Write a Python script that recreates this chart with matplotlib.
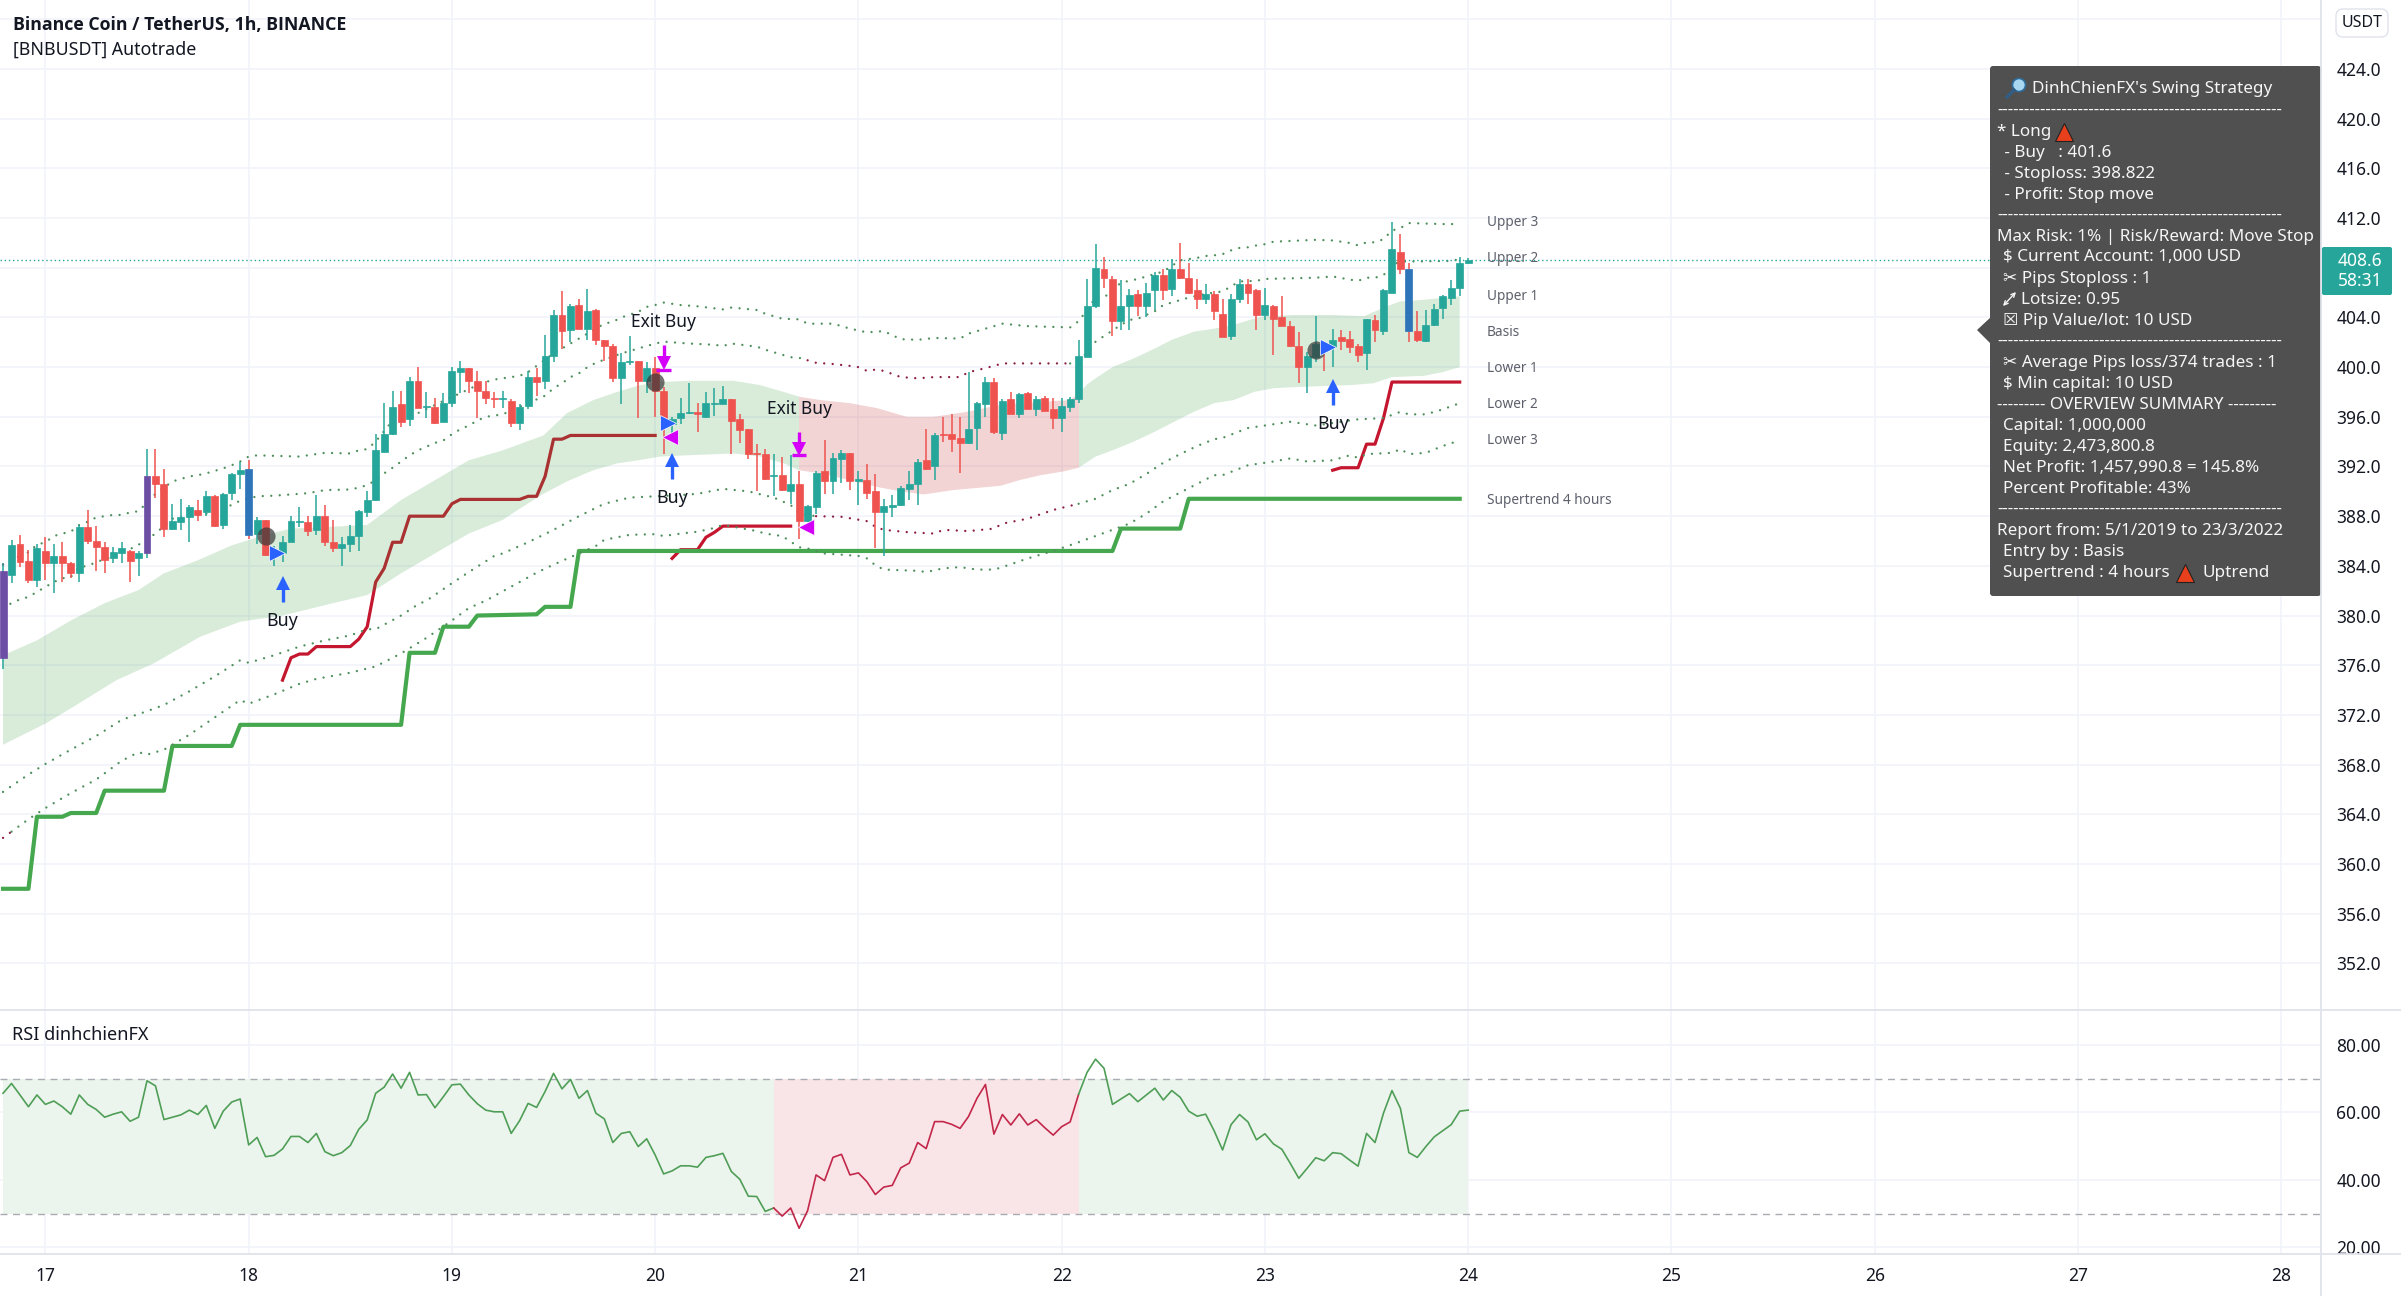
import numpy as np
import matplotlib
matplotlib.use('Agg')
import matplotlib.pyplot as plt
from matplotlib.patches import Rectangle, FancyBboxPatch, Polygon, Circle

plt.rcParams['font.family'] = ['Noto Sans', 'DejaVu Sans']
plt.rcParams['lines.scale_dashes'] = False

# Colors
UP = '#26a69a'
DOWN = '#ef5350'
PURPLE = '#6d4ea5'
BLUE = '#2e74b8'
GRID = '#f0f3fa'
LINE = '#e0e3eb'
TEXT = '#131722'
DOT_GREEN = '#4f8f5c'
DOT_RED = '#8c1f45'
ST_GREEN = '#46a84e'
ST_RED = '#c4162e'

# Candles, one per hour, hour 0 = day 17 00:00
hours = np.arange(-5, 169)
opens = [376.6, 383.3, 385.8, 384.4, 382.9, 385.2, 384.2, 384.8, 384.2, 383.4,
         387.1, 386.0, 385.5, 384.6, 385.0, 385.2, 384.6, 385.0, 391.2, 390.6,
         387.0, 387.5, 387.9, 388.5, 388.3, 389.6, 387.3, 389.9, 391.4, 391.8,
         386.6, 387.7, 385.0, 385.0, 385.9, 387.5, 387.5, 386.9, 388.0, 385.9,
         385.4, 385.8, 386.4, 388.3, 389.3, 393.2, 394.6, 397.0, 395.8, 398.9,
         396.8, 396.8, 395.6, 397.1, 399.6, 399.9, 398.9, 398.1, 397.5, 397.4,
         397.3, 395.5, 396.9, 399.2, 398.9, 400.9, 404.2, 403.0, 405.0, 403.1,
         404.6, 402.2, 401.7, 399.1, 400.4, 400.5, 398.9, 399.9, 398.1, 395.4,
         395.9, 396.3, 396.4, 396.0, 397.0, 397.0, 397.4, 395.8, 395.0, 393.1,
         393.0, 391.2, 391.3, 390.0, 390.6, 387.6, 388.7, 391.6, 390.8, 392.6,
         393.1, 390.8, 390.9, 390.0, 388.3, 388.7, 388.9, 390.2, 390.6, 392.5,
         392.0, 394.6, 394.6, 394.3, 393.9, 395.1, 397.0, 398.8, 394.7, 397.4,
         396.2, 397.9, 396.6, 397.5, 396.6, 395.9, 396.8, 397.4, 400.8, 404.9,
         407.9, 407.1, 403.7, 404.9, 405.9, 404.9, 406.2, 407.4, 406.3, 407.9,
         407.2, 406.2, 405.5, 405.9, 404.3, 402.5, 405.5, 406.7, 406.2, 404.2,
         404.9, 404.0, 403.3, 401.7, 400.0, 400.8, 401.9, 401.6, 402.4, 402.3,
         401.7, 401.1, 403.8, 402.9, 406.0, 409.3, 407.9, 402.9, 402.1, 403.4,
         404.8, 405.6, 406.4, 408.4]
closes = [383.6, 385.7, 384.3, 382.9, 385.4, 384.2, 384.8, 384.2, 383.4, 387.1,
          386.0, 385.5, 384.5, 385.1, 385.4, 384.4, 385.0, 391.2, 390.6, 387.0,
          387.6, 387.9, 388.7, 388.1, 389.6, 387.2, 389.8, 391.4, 391.7, 386.5,
          387.7, 384.9, 385.2, 385.9, 387.6, 387.6, 386.8, 388.0, 385.9, 385.4,
          385.8, 386.4, 388.4, 389.3, 393.3, 394.6, 396.8, 395.6, 398.9, 396.7,
          396.9, 395.5, 397.1, 399.7, 399.9, 398.9, 398.1, 397.5, 397.4, 397.5,
          395.5, 396.8, 399.2, 398.8, 400.9, 404.2, 402.9, 404.9, 403.1, 404.5,
          402.2, 401.7, 399.1, 400.4, 400.5, 398.9, 399.9, 398.1, 395.9, 395.8,
          396.3, 396.4, 396.2, 397.1, 397.1, 397.4, 395.7, 394.9, 393.0, 393.0,
          391.0, 391.3, 390.1, 390.6, 387.6, 388.8, 391.5, 390.8, 392.7, 393.1,
          390.8, 391.0, 389.9, 388.3, 388.8, 388.9, 390.3, 390.6, 392.4, 391.8,
          394.5, 394.5, 394.2, 393.9, 395.0, 397.1, 398.8, 394.8, 397.3, 396.2,
          397.8, 396.6, 397.4, 396.5, 395.9, 396.9, 397.4, 400.9, 404.9, 408.0,
          407.2, 403.7, 404.9, 405.8, 404.9, 406.0, 407.4, 406.2, 407.9, 407.2,
          406.0, 405.5, 405.9, 404.5, 402.4, 405.5, 406.7, 406.0, 404.2, 405.0,
          403.9, 403.3, 401.7, 400.0, 400.9, 401.9, 401.6, 402.2, 402.1, 401.6,
          401.0, 403.9, 403.0, 406.2, 409.5, 407.9, 402.9, 402.2, 403.4, 404.7,
          405.7, 406.4, 408.4, 408.6]
highs = [384.2, 386.1, 386.5, 385.3, 385.8, 386.3, 385.8, 385.9, 384.3, 387.3,
         388.5, 387.2, 385.9, 385.5, 385.9, 385.3, 385.2, 393.4, 393.4, 391.8,
         389.0, 389.4, 388.9, 389.3, 390.0, 389.7, 389.9, 391.5, 392.4, 392.5,
         387.9, 387.7, 385.6, 386.4, 388.0, 388.7, 388.0, 389.7, 388.9, 387.7,
         386.3, 387.3, 388.5, 390.0, 394.6, 397.1, 398.1, 398.1, 399.2, 400.0,
         398.0, 397.5, 397.9, 400.0, 400.5, 399.9, 399.7, 398.9, 398.0, 398.1,
         397.4, 397.0, 399.7, 399.9, 402.6, 404.6, 406.1, 405.1, 405.5, 406.3,
         404.7, 402.2, 401.9, 401.1, 402.5, 400.5, 400.4, 400.8, 398.4, 396.0,
         397.5, 398.7, 397.1, 398.0, 398.3, 398.5, 397.4, 396.2, 395.0, 393.8,
         393.4, 393.0, 392.8, 392.9, 391.6, 388.9, 391.6, 394.1, 393.1, 393.3,
         393.1, 391.6, 392.2, 391.4, 389.4, 389.7, 390.4, 391.6, 392.6, 395.0,
         394.7, 396.0, 396.2, 396.0, 399.6, 397.2, 399.2, 399.1, 397.4, 398.0,
         397.9, 398.0, 397.7, 397.7, 397.5, 397.5, 397.6, 402.2, 407.1, 409.9,
         408.9, 407.3, 407.0, 406.3, 406.2, 406.8, 407.7, 407.9, 408.7, 410.0,
         408.4, 407.1, 406.7, 406.1, 405.5, 405.9, 407.1, 407.1, 406.3, 406.4,
         405.0, 405.7, 403.7, 402.8, 401.2, 404.1, 402.0, 403.1, 403.0, 402.9,
         401.9, 403.9, 404.2, 406.3, 411.7, 410.7, 408.4, 404.5, 404.6, 405.1,
         405.8, 407.0, 408.9, 408.8]
lows = [375.7, 382.6, 383.9, 382.6, 382.3, 382.9, 381.8, 382.7, 383.0, 382.7,
        385.8, 383.6, 383.4, 384.2, 384.2, 382.7, 383.2, 384.6, 389.5, 386.3,
        386.9, 386.9, 385.9, 387.6, 388.0, 387.1, 387.0, 389.3, 390.2, 386.2,
        385.8, 384.8, 384.0, 384.3, 385.9, 387.1, 386.4, 386.5, 385.6, 385.1,
        384.0, 385.1, 385.2, 387.9, 389.2, 393.2, 394.5, 395.2, 395.3, 396.7,
        395.9, 395.4, 395.6, 396.8, 397.9, 397.9, 395.9, 397.0, 396.7, 396.7,
        395.2, 394.9, 396.6, 397.7, 398.2, 400.4, 401.5, 402.0, 403.1, 402.2,
        401.8, 400.5, 398.8, 397.0, 400.2, 395.9, 397.9, 396.0, 393.0, 394.1,
        395.4, 396.2, 394.8, 395.9, 396.1, 397.0, 393.0, 393.9, 392.6, 390.0,
        390.9, 389.6, 390.0, 389.0, 386.2, 387.5, 388.2, 389.8, 389.8, 390.7,
        390.1, 388.9, 389.4, 385.4, 384.8, 387.9, 388.8, 389.3, 388.9, 391.7,
        390.9, 394.0, 393.2, 391.5, 393.8, 393.3, 396.0, 394.6, 394.1, 396.2,
        395.9, 396.6, 396.1, 396.5, 395.0, 394.8, 396.4, 397.1, 400.8, 404.8,
        406.4, 402.5, 403.0, 403.0, 404.1, 404.0, 404.6, 405.4, 405.7, 407.1,
        405.9, 404.7, 405.1, 403.8, 402.4, 402.2, 405.2, 405.1, 403.0, 403.8,
        401.0, 403.3, 401.6, 398.7, 397.9, 400.4, 399.7, 400.0, 401.4, 401.1,
        400.4, 399.8, 402.0, 402.6, 406.0, 407.5, 402.0, 402.0, 402.0, 403.3,
        403.9, 405.0, 405.7, 408.3]
purple_hours = [-5, 12]
blue_hours = [24, 161]

# Cloud between upper 1 and lower 1
cloud_top_h = [-5, -1, 3, 7, 11, 14, 18, 22, 26, 29, 34, 38, 42, 46, 50, 54, 58.8, 61.6, 64.7, 67.5,
               70.2, 72.6, 76, 81.3, 84.4, 87.2, 89.1, 91.5, 95, 98.2, 101.7, 104.9, 108.8, 113, 121, 122,
               123, 124, 126, 128.5, 131, 133, 135.6, 138, 140.3, 142.7, 144, 147.4, 152, 155.7, 158.4,
               160, 162.4, 167]
cloud_top = [376.8, 378.0, 379.6, 381.0, 382.05, 383.4, 384.45, 385.65, 386.5, 387.0, 387.15, 387.3, 389.3,
             390.9, 392.5, 393.3, 394.5, 396.3, 397.35, 398.0, 398.55, 398.8, 398.9, 398.9, 398.55, 398.0,
             397.6, 397.35, 397.1, 396.7, 396.0, 396.0, 396.4, 397.0, 397.35, 397.9, 398.6, 399.1, 400.0,
             400.7, 401.5, 402.2, 402.85, 403.1, 403.4, 403.9, 404.1, 404.2, 404.2, 404.1, 404.9, 405.3,
             405.4, 405.7]
cloud_bot_h = [-5, 0, 3.3, 8.4, 12.8, 18.3, 23, 28, 34, 38, 42, 46, 50, 54, 56, 58.8, 61.6, 64.7, 67.5, 70,
               72.6, 75.7, 81.3, 84.4, 87.2, 89, 91.5, 95, 98.2, 101, 103.7, 107.2, 112.8, 115, 117.5, 120.2,
               122, 124, 126, 128.5, 131, 133, 135.6, 138, 140.3, 142.7, 145, 147.8, 154, 156.8, 159, 162.8,
               165, 167]
cloud_bot = [369.6, 371.3, 372.65, 374.8, 376.15, 378.3, 379.5, 380.0, 381.0, 381.65, 383.4, 385.0, 386.6,
             387.7, 388.6, 389.8, 390.8, 391.7, 392.25, 392.5, 392.8, 392.9, 393.05, 392.8, 392.25, 391.7,
             391.45, 390.9, 390.35, 390.0, 389.75, 390.1, 390.45, 390.9, 391.3, 391.6, 391.9, 392.8, 393.3,
             394.0, 394.8, 395.5, 396.4, 397.1, 397.35, 398.0, 398.3, 398.4, 398.55, 398.7, 399.2, 399.3,
             399.6, 400.0]

# Dotted bands
upper3_h = [-5, -4, -3, -2, -1, 0, 1, 2, 3, 4, 5, 6, 7, 8, 9, 10, 11, 13, 15, 16, 17, 18, 19, 20, 21, 22, 23, 24,
            25, 30, 32, 33, 36, 37, 38, 39, 41, 43, 44, 48, 49, 51, 52, 53, 54, 55, 56, 57, 60, 66, 67, 68, 70,
            71, 72, 73, 75, 77, 80, 81, 84, 85, 87, 89, 90, 93, 95, 97, 99, 101, 103, 105, 108, 109, 110, 112,
            113, 116, 121, 122, 123, 124, 125, 127, 128, 129, 130, 131, 132, 134, 135, 136, 137, 138, 139, 140,
            141, 142, 143, 144, 145, 150, 152, 154, 155, 156, 157, 158, 159, 160, 161, 166, 167]
upper3 = [384.1, 384.5, 384.8, 385.1, 385.7, 385.9, 386.4, 386.6, 386.75, 387.3, 387.55, 387.9, 388.0, 388.1,
          388.1, 388.3, 388.4, 389.8, 390.8, 391.0, 391.2, 391.3, 391.45, 391.65, 391.85, 392.1, 392.4, 392.8,
          392.9, 392.8, 393.0, 393.1, 393.05, 393.3, 393.4, 394.0, 395.7, 396.3, 396.3, 397.6, 397.9, 398.55,
          398.8, 399.0, 399.1, 399.2, 399.3, 399.6, 401.1, 403.5, 403.65, 404.0, 404.45, 404.85, 405.0, 405.2,
          405.0, 404.9, 404.65, 404.8, 404.6, 404.3, 403.9, 403.85, 403.5, 403.5, 403.1, 402.8, 402.9, 402.25,
          402.2, 402.35, 402.3, 402.7, 402.9, 403.3, 403.5, 403.3, 403.2, 403.7, 404.6, 405.6, 405.6, 406.8,
          406.95, 407.1, 407.3, 407.5, 407.7, 408.6, 408.7, 408.8, 408.95, 409.0, 409.1, 409.4, 409.6, 409.65,
          409.8, 409.9, 410.1, 410.25, 410.2, 410.0, 409.8, 410.05, 410.05, 410.3, 411.0, 411.2, 411.6, 411.5,
          411.7]
upper2_h = [-5, -4, -3, -2, -1, 0, 1, 2, 3, 4, 5, 6, 9, 11, 13, 15, 19, 22, 23, 25, 27, 29, 31, 33, 36, 37, 38, 39,
            40, 41, 42, 43, 44, 45, 46, 47, 48, 49, 50, 51, 52, 53, 54, 57, 59, 60, 61, 62, 63, 64, 65, 68, 70,
            71, 72, 73, 76, 79, 80, 81, 84, 85, 86, 88, 89, 90, 91, 93, 95, 96, 97, 98, 99, 101, 103, 105, 108,
            109, 110, 112, 113, 121, 123, 124, 125, 127, 128, 129, 130, 131, 132, 134, 135, 137, 139, 141, 143,
            144, 147, 150, 152, 154, 155, 156, 157, 158, 159, 160, 166, 167]
upper2 = [380.6, 381.0, 381.3, 381.5, 381.9, 382.3, 382.7, 383.0, 383.1, 383.9, 384.0, 384.3, 385.0, 385.7, 386.6,
          387.8, 388.2, 388.9, 389.25, 389.6, 389.65, 389.75, 389.85, 390.1, 390.15, 390.3, 390.5, 390.9, 391.45,
          391.9, 392.4, 392.9, 393.3, 393.6, 393.9, 394.1, 394.6, 395.0, 395.3, 395.7, 396.0, 396.1, 396.2, 397.1,
          397.7, 398.3, 398.7, 399.2, 399.5, 400.0, 400.35, 401.1, 401.5, 401.7, 401.9, 402.05, 401.9, 401.8,
          401.7, 401.9, 401.65, 401.4, 401.2, 400.8, 400.75, 400.55, 400.35, 400.25, 400.1, 400.0, 399.7, 399.8,
          399.7, 399.2, 399.1, 399.2, 399.2, 399.6, 399.75, 400.1, 400.3, 400.3, 401.1, 402.05, 402.5, 403.4,
          403.8, 403.9, 404.2, 404.5, 405.0, 405.4, 405.6, 405.9, 406.1, 406.9, 406.95, 407.1, 407.15, 407.2,
          407.3, 407.05, 406.95, 407.2, 407.2, 407.4, 408.2, 408.5, 408.55, 408.7]
lower2_h = [-5, -2, 0, 3, 6, 9, 12, 14, 17, 20, 23, 24, 27, 30, 33, 36, 38, 39, 42, 44, 45, 48, 50, 53, 54, 57, 60,
            63, 66, 69, 72, 75, 77, 80, 83, 86, 88, 89, 91, 94, 97, 98, 99, 102, 105, 106, 109, 112, 113, 116, 119,
            122, 124, 126, 128, 130, 132, 134, 136, 138, 139, 142, 145, 147, 150, 155, 158, 160, 161, 163, 165, 167]
lower2 = [365.8, 367.2, 368.05, 369.2, 370.3, 371.6, 372.3, 372.8, 373.9, 375.1, 376.4, 376.2, 376.8, 377.5, 378.0,
          378.4, 378.9, 378.9, 380.0, 380.9, 381.2, 382.6, 383.5, 384.8, 385.0, 385.9, 386.9, 388.0, 389.0, 389.5,
          389.6, 389.7, 389.8, 390.2, 390.0, 389.5, 388.9, 388.2, 388.0, 387.95, 387.6, 387.15, 386.9, 386.7, 386.6,
          386.9, 386.8, 387.0, 387.4, 387.8, 388.5, 389.0, 389.4, 390.1, 390.6, 391.4, 392.3, 393.0, 393.65, 394.2,
          394.3, 395.1, 395.4, 395.6, 395.3, 395.8, 395.9, 396.4, 396.2, 396.2, 396.6, 397.1]
lower3_h = [-5, -4, -2, 0, 3, 6, 9, 11, 12, 14, 17, 20, 23, 24, 27, 30, 32, 36, 39, 42, 45, 48, 50, 52, 58, 60, 62, 65,
            66, 69, 72, 73, 75, 77, 79, 80, 84, 85, 87, 89, 90, 92, 96, 97, 98, 99, 103, 104, 106, 108, 110, 112, 113,
            116, 119, 122, 124, 126, 128, 130, 132, 134, 136, 138, 139, 142, 145, 147, 149, 152, 154, 155, 156, 159,
            160, 161, 163, 165, 167]
lower3 = [362.1, 362.6, 363.6, 364.5, 365.7, 366.8, 368.3, 369.0, 368.8, 369.2, 370.4, 371.8, 373.2, 372.9, 373.65,
          374.5, 374.9, 375.4, 375.9, 376.95, 378.2, 379.6, 380.6, 381.2, 383.45, 384.1, 384.7, 385.6, 386.1, 386.5,
          386.55, 386.4, 386.6, 386.75, 387.05, 387.3, 386.8, 386.6, 386.4, 385.5, 385.4, 385.0, 384.8, 384.6, 384.05,
          383.7, 383.6, 383.5, 383.8, 383.9, 383.7, 383.7, 383.9, 384.6, 385.2, 385.9, 386.4, 386.9, 387.4, 388.2,
          389.2, 389.9, 390.6, 391.3, 391.3, 392.1, 392.4, 392.65, 392.4, 392.5, 392.9, 392.7, 393.0, 393.1, 393.4,
          393.0, 393.1, 393.65, 394.1]

# Supertrend lines
st4h_h = [-5, -2, -1, 2, 3, 6, 7, 14, 15, 22, 23, 42, 43, 46, 47, 50, 51, 58, 59, 62, 63, 126, 127, 134, 135, 167]
st4h = [358.0, 358.0, 363.8, 363.8, 364.1, 364.1, 365.9, 365.9, 369.5, 369.5, 371.2, 371.2, 377.0, 377.0, 379.1,
        379.1, 380.0, 380.1, 380.7, 380.7, 385.2, 385.2, 387.0, 387.0, 389.4, 389.4]
st1_h = [28, 29, 30, 31, 32, 36, 37, 38, 39, 40, 41, 42, 43, 47, 48, 49, 56, 57, 58, 59, 60, 61, 62, 72]
st1 = [374.8, 376.6, 376.9, 376.9, 377.5, 377.5, 378.1, 379.1, 382.7, 383.8, 385.9, 385.9, 388.0, 388.0, 389.0,
       389.35, 389.35, 389.6, 389.6, 391.2, 394.2, 394.2, 394.5, 394.5]
st2_h = [74, 75, 77, 78, 79, 80, 88]
st2 = [384.6, 385.3, 385.3, 386.3, 386.7, 387.2, 387.2]
st3_h = [152, 153, 155, 156, 157, 158, 159, 167]
st3 = [391.7, 391.9, 391.9, 393.8, 393.8, 395.9, 398.8, 398.8]

# Signals
buy_hours = [28, 74, 152]
buy_tail = [381.1, 391.0, 396.95]
buy_head = [383.0, 392.9, 398.8]
buy_text = [379.6, 389.5, 395.4]
exit_hours = [73, 89]
exit_tail = [401.8, 394.8]
exit_bar = [399.8, 392.9]
exit_text = [403.6, 396.6]
circle_hours = [26, 72, 150]
circle_price = [386.4, 398.8, 401.4]
entry_hours = [27.4, 73.5, 151.5]
entry_price = [385.05, 395.5, 401.6]
leave_hours = [73.8, 89.8]
leave_price = [394.35, 387.1]
last_price = 408.6

# RSI, one value per hour
rsi = [65.7, 68.6, 65.2, 61.7, 65.2, 62.4, 63.4, 61.7, 59.5, 65.2, 62.4, 60.9, 58.6, 59.5, 60.2, 57.4, 58.6, 69.4,
       67.9, 57.9, 58.6, 59.3, 60.7, 59.4, 62.1, 55.3, 60.4, 63.1, 64.0, 50.4, 52.6, 46.9, 47.3, 49.2, 52.9, 52.9,
       51.1, 53.8, 48.4, 47.2, 48.1, 50.2, 55.0, 57.8, 65.7, 67.5, 71.4, 67.2, 71.9, 65.2, 65.3, 61.4, 64.7, 68.2,
       68.4, 65.2, 62.6, 60.7, 60.2, 60.2, 53.8, 57.6, 62.7, 61.5, 66.2, 71.6, 67.0, 69.8, 64.2, 66.5, 59.8, 58.1,
       51.1, 53.8, 54.3, 49.9, 52.2, 47.4, 41.8, 42.7, 44.2, 44.2, 43.8, 46.7, 47.2, 47.9, 42.5, 40.2, 35.2, 35.1,
       30.7, 31.7, 29.3, 31.7, 25.7, 30.9, 41.5, 39.8, 46.7, 47.6, 41.5, 42.1, 39.5, 35.7, 37.9, 38.4, 43.6, 45.0,
       51.1, 49.3, 57.3, 57.3, 56.5, 55.3, 58.8, 64.2, 68.3, 53.6, 59.4, 56.3, 59.6, 56.3, 57.9, 55.5, 53.3, 55.8,
       57.2, 65.4, 71.9, 75.8, 73.1, 62.4, 64.0, 65.6, 63.2, 65.2, 67.2, 63.7, 66.5, 64.5, 60.4, 58.9, 59.5, 54.6,
       48.9, 56.4, 59.4, 57.2, 51.9, 53.7, 50.7, 49.1, 44.9, 40.5, 43.5, 46.6, 45.7, 48.1, 47.8, 45.9, 44.1, 53.8,
       51.1, 59.8, 66.5, 61.2, 48.1, 46.7, 49.9, 52.8, 54.6, 56.4, 60.4, 60.7]

# Axis labels
day_ticks = np.arange(0, 265, 24)
day_labels = [str(d) for d in range(17, 29)]
price_ticks = np.arange(352, 425, 4)
rsi_ticks = [20, 40, 60, 80]

# Info panel lines: text, x px, y px
DASHES = '-' * 53
panel_lines = [
    ("DinhChienFX's Swing Strategy", 2032, 89),
    (DASHES, 1997, 110),
    ("* Long", 1997, 132),
    (" - Buy   : 401.6", 2000, 153),
    (" - Stoploss: 398.822", 2000, 174),
    (" - Profit: Stop move", 2000, 195),
    (DASHES, 1997, 215),
    ("Max Risk: 1% | Risk/Reward: Move Stop", 1997, 237),
    ("$ Current Account: 1,000 USD", 2003, 257),
    ("\u2702 Pips Stoploss : 1", 2003, 279),
    ("Lotsize: 0.95", 2021, 300),
    ("\u2612 Pip Value/lot: 10 USD", 2003, 321),
    (DASHES, 1997, 341),
    ("\u2702 Average Pips loss/374 trades : 1", 2003, 363),
    ("$ Min capital: 10 USD", 2003, 384),
    ("--------- OVERVIEW SUMMARY ---------", 1997, 405),
    ("Capital: 1,000,000", 2003, 426),
    ("Equity: 2,473,800.8", 2003, 447),
    ("Net Profit: 1,457,990.8 = 145.8%", 2003, 468),
    ("Percent Profitable: 43%", 2003, 489),
    (DASHES, 1997, 509),
    ("Report from: 5/1/2019 to 23/3/2022", 1997, 531),
    ("Entry by : Basis", 2003, 552),
    ("Supertrend : 4 hours", 2003, 573),
]
side_labels = [('Upper 3', 222), ('Upper 2', 258), ('Upper 1', 297), ('Basis', 332), ('Lower 1', 368),
               ('Lower 2', 405), ('Lower 3', 441), ('Supertrend 4 hours', 500)]


def draw_band(ax, hrs, vals, dark):
    hrs = np.array(hrs)
    vals = np.array(vals)
    a, b = dark
    for mask, col in [(hrs <= a, DOT_GREEN), ((hrs >= a) & (hrs <= b), DOT_RED), (hrs >= b, DOT_GREEN)]:
        ax.plot(hrs[mask], vals[mask], color=col, lw=1.7, ls=(0, (0.01, 6.1)),
                dash_capstyle='round', zorder=3)


W, H = 2401, 1296
fig = plt.figure(figsize=(24.01, 12.96), dpi=100)
ax = fig.add_axes([0, 1 - 1010 / H, 2321 / W, 1010 / H])
ax2 = fig.add_axes([0, 1 - 1254 / H, 2321 / W, 244 / H], sharex=ax)

ax.set_xlim(-5.36, 268.7)
ax.set_ylim(348.24, 429.56)
ax2.set_ylim(18.07, 90.37)

for a in (ax, ax2):
    for s in a.spines.values():
        s.set_visible(False)
    a.yaxis.tick_right()
    a.grid(True, color=GRID, lw=1.1)
    a.set_axisbelow(True)
    a.tick_params(length=0, labelsize=12.5, labelcolor=TEXT, pad=11)

ax.set_yticks(price_ticks)
# 408 sits behind the last price tag
ax.set_yticklabels(['' if t == 408 else f'{t:.1f}' for t in price_ticks])
ax.axhline(428, color=GRID, lw=1.1, zorder=0)
ax.set_xticks(day_ticks)
ax.tick_params(axis='x', labelbottom=False)
ax2.set_xticks(day_ticks)
ax2.set_xticklabels(day_labels)
ax2.tick_params(axis='x', pad=9.5, labelsize=12.5)
ax2.set_yticks(rsi_ticks)
ax2.set_yticklabels([f'{t:.2f}' for t in rsi_ticks])

# Supertrend, red part sits under the cloud
for xs, ys in [(st1_h, st1), (st2_h, st2), (st3_h, st3)]:
    ax.plot(xs, ys, color=ST_RED, lw=2.3, zorder=1, solid_joinstyle='round')
ax.plot(st4h_h, st4h, color=ST_GREEN, lw=3.0, zorder=1, solid_joinstyle='round')

# Cloud, green and red by clip zone
poly_x = list(cloud_top_h) + list(cloud_bot_h)[::-1]
poly_y = list(cloud_top) + list(cloud_bot)[::-1]
for x0, x1, col in [(-5, 89, '#43a047'), (89, 122, '#c62828'), (122, 167, '#43a047')]:
    patch = ax.fill(poly_x, poly_y, color=col, alpha=0.2, lw=0, zorder=2)[0]
    patch.set_clip_path(Rectangle((x0, 340), x1 - x0, 100, transform=ax.transData))

draw_band(ax, upper3_h, upper3, (-5, -3))
draw_band(ax, upper2_h, upper2, (90, 121))
draw_band(ax, lower2_h, lower2, (91, 122))
draw_band(ax, lower3_h, lower3, (-5, -4))

ax.axhline(last_price, color=UP, lw=1, ls=(0, (1, 2)), zorder=3)

# Candles
o = np.array(opens)
c = np.array(closes)
wick_cols = [UP if cc >= oo else DOWN for oo, cc in zip(o, c)]
body_cols = list(wick_cols)
for i, h in enumerate(hours):
    if h in purple_hours:
        body_cols[i] = PURPLE
    if h in blue_hours:
        body_cols[i] = BLUE
ax.vlines(hours, lows, highs, colors=wick_cols, lw=1.1, zorder=4)
ax.bar(hours, np.abs(c - o), bottom=np.minimum(o, c), width=0.82, color=body_cols,
       edgecolor=body_cols, lw=0.5, zorder=5)

# Signals
ax.scatter(circle_hours, circle_price, s=170, color='#3a3a3a', alpha=0.72, lw=0, zorder=6)
ax.plot(entry_hours, entry_price, '>', color='#2962ff', ms=11, mec='white', mew=0.5, ls='', zorder=7)
ax.plot(leave_hours, leave_price, '<', color='#d500f9', ms=11, mec='white', mew=0.5, ls='', zorder=7)
for h, t0, t1, t2 in zip(buy_hours, buy_tail, buy_head, buy_text):
    ax.plot([h, h], [t0, t1 - 0.4], color='#2962ff', lw=2.4, zorder=7, solid_capstyle='butt')
    ax.plot([h], [t1 - 0.35], '^', color='#2962ff', ms=10, mew=0, zorder=7)
    ax.text(h, t2, 'Buy', ha='center', va='center', fontsize=12.8, color=TEXT, zorder=8)
for h, t0, t1, t2 in zip(exit_hours, exit_tail, exit_bar, exit_text):
    ax.plot([h, h], [t0, t1 + 0.6], color='#d500f9', lw=2.4, zorder=7, solid_capstyle='butt')
    ax.plot([h], [t1 + 0.5], 'v', color='#d500f9', ms=10, mew=0, zorder=7)
    ax.plot([h - 0.85, h + 0.85], [t1, t1], color='#d500f9', lw=2.4, zorder=7, solid_capstyle='butt')
    ax.text(h, t2, 'Exit Buy', ha='center', va='center', fontsize=12.5, color=TEXT, zorder=8)

# RSI pane
for x0, x1, col in [(-5, 86, '#ecf5ed'), (86, 122, '#f9e5e7'), (122, 168, '#ecf5ed')]:
    ax2.fill_between([x0, x1], 30, 70, color=col, lw=0, zorder=1)
ax2.axhline(70, color='#a9abb2', lw=1, ls=(0, (5, 4)), zorder=2)
ax2.axhline(30, color='#a9abb2', lw=1, ls=(0, (5, 4)), zorder=2)
rsi_arr = np.array(rsi)
for x0, x1, col in [(-5, 86, '#4f9e57'), (86, 122, '#c2274a'), (122, 168, '#4f9e57')]:
    mask = (hours >= x0) & (hours <= x1)
    ax2.plot(hours[mask], rsi_arr[mask], color=col, lw=1.2, zorder=3)

# Overlay in pixels for pane borders, labels and the info panel
ov = fig.add_axes([0, 0, 1, 1], zorder=10)
ov.set_xlim(0, W)
ov.set_ylim(H, 0)
ov.axis('off')
ov.patch.set_alpha(0)

ov.plot([0, W], [1010, 1010], color=LINE, lw=1.3)
ov.plot([0, W], [1254, 1254], color=LINE, lw=1.3)
ov.plot([2321, 2321], [0, H], color=LINE, lw=1.3)

ov.text(13, 25, 'Binance Coin / TetherUS, 1h, BINANCE', fontsize=12.75, fontweight='bold',
        family=['Open Sans', 'DejaVu Sans'], color=TEXT, va='center')
ov.text(13, 50, '[BNBUSDT] Autotrade', fontsize=12.8, color=TEXT, va='center')
ov.text(12, 1035, 'RSI dinhchienFX', fontsize=13, color=TEXT, va='center')
for name, y in side_labels:
    ov.text(1487, y, name, fontsize=9.8, color='#5d606b', va='center')

# USDT button
ov.add_patch(FancyBboxPatch((2339, 12), 46, 22, boxstyle='round,pad=3,rounding_size=7',
                            fc='white', ec=LINE, lw=1))
ov.text(2362, 23, 'USDT', fontsize=11.5, color=TEXT, ha='center', va='center')

# Last price tag
ov.add_patch(FancyBboxPatch((2323, 248), 68, 46, boxstyle='round,pad=1,rounding_size=2', fc=UP, ec=UP, lw=0))
ov.text(2360, 261, '408.6', fontsize=12.5, color='white', ha='center', va='center')
ov.text(2360, 281, '58:31', fontsize=12.5, color='white', ha='center', va='center')

# Info panel
ov.add_patch(FancyBboxPatch((1993, 69), 325, 524, boxstyle='round,pad=3,rounding_size=3', fc='#505050', ec='none'))
ov.add_patch(Polygon([(1977, 330), (1991, 317), (1991, 344)], fc='#505050', ec='none'))
for txt, x, y in panel_lines:
    ov.text(x, y, txt, fontsize=12.3, color='#f6f6f6', va='center')
# magnifier and resize arrow have no glyph in the installed fonts
ov.add_patch(Circle((2019, 85), 6.5, fc='#a9d6f0', ec='#2d6c9c', lw=1.2))
ov.plot([2014, 2007], [90, 97], color='#2d5f8a', lw=2.2)
ov.annotate('', xy=(2016, 292), xytext=(2003, 306),
            arrowprops=dict(arrowstyle='<->', color='#f6f6f6', lw=1, mutation_scale=7, shrinkA=0, shrinkB=0))
ov.plot([2064, 2185], [132, 573], '^', color='#e8401c', mec='#222222', mew=0.8, ms=13, ls='')
ov.text(2203, 573, 'Uptrend', fontsize=12.3, color='#f6f6f6', va='center')

fig.savefig('out.png', dpi=100)
